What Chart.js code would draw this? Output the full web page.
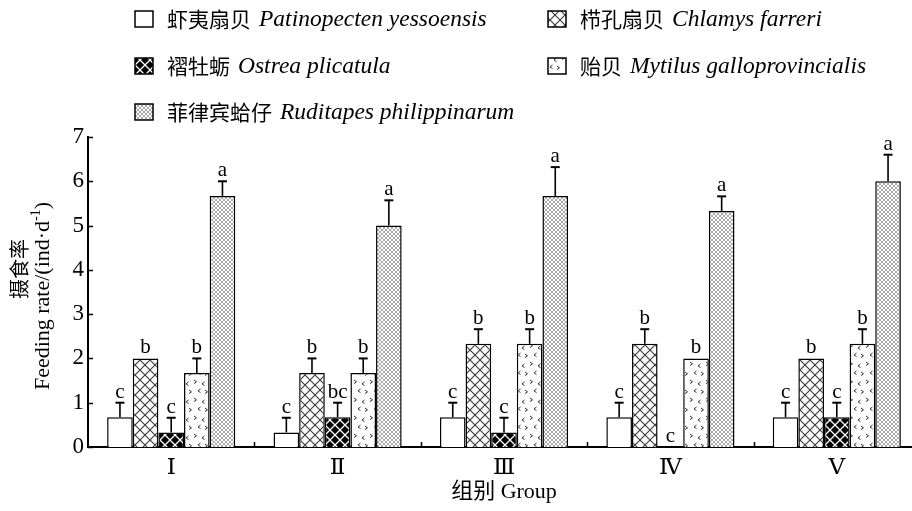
<!DOCTYPE html>
<html><head><meta charset="utf-8">
<script src="https://cdn.jsdelivr.net/npm/chart.js@4.4.0/dist/chart.umd.min.js"></script>
<style>
html,body{margin:0;padding:0;overflow:hidden;background:#fff;width:912px;height:511px}
#wrap{position:absolute;left:0;top:0;width:921px;height:511px}
</style></head>
<body><div id="wrap"><canvas id="c" width="921" height="511"></canvas></div>
<script>
const categories = ['Ⅰ','Ⅱ','Ⅲ','Ⅳ','Ⅴ'];
const speciesCn = ['虾夷扇贝','栉孔扇贝','褶牡蛎','贻贝','菲律宾蛤仔'];
const speciesLatin = ['Patinopecten yessoensis','Chlamys farreri','Ostrea plicatula','Mytilus galloprovincialis','Ruditapes philippinarum'];
const patinopecten = [0.67,0.33,0.67,0.67,0.67];
const chlamys      = [2.00,1.67,2.33,2.33,2.00];
const ostrea       = [0.33,0.67,0.33,0.00,0.67];
const mytilus      = [1.67,1.67,2.33,2.00,2.33];
const ruditapes    = [5.67,5.00,5.67,5.33,6.00];
const patinopectenErr = [0.33,0.33,0.33,0.33,0.33];
const chlamysErr      = [0.00,0.33,0.33,0.33,0.00];
const ostreaErr       = [0.33,0.33,0.33,0.00,0.33];
const mytilusErr      = [0.33,0.33,0.33,0.00,0.33];
const ruditapesErr    = [0.33,0.57,0.65,0.33,0.60];
const patinopectenSig = ['c','c','c','c','c'];
const chlamysSig      = ['b','b','b','b','b'];
const ostreaSig       = ['c','bc','c','c','c'];
const mytilusSig      = ['b','b','b','b','b'];
const ruditapesSig    = ['a','a','a','a','a'];
const yTicks = [0,1,2,3,4,5,6,7];
const xTitle = '组别 Group';
const yTitleCn = '摄食率';
const yTitleEn = 'Feeding rate/(ind·d';
const yTitleSup = '-1';

const SERIF = '"Liberation Serif","DejaVu Serif","Noto Sans CJK SC",serif';
const CJK = '"Noto Sans CJK SC",sans-serif';

const canvas = document.getElementById('c');
const ctx0 = canvas.getContext('2d');
function makeTile(w,h,draw){const c=document.createElement('canvas');c.width=w;c.height=h;const g=c.getContext('2d');draw(g,w,h);return ctx0.createPattern(c,'repeat');}
function lattice(bg,fg,p,lw){return makeTile(p,p,(g,w,h)=>{g.fillStyle=bg;g.fillRect(0,0,w,h);g.strokeStyle=fg;g.lineWidth=lw;g.beginPath();g.moveTo(0,0);g.lineTo(w,h);g.moveTo(w,0);g.lineTo(0,h);g.stroke();});}
const patWhite = '#ffffff';
const patChlamys = lattice('#ffffff','#3a3a3a',10,1.1);
const patOstrea = lattice('#000000','#ffffff',10,1.3);
const patMytilus = makeTile(16,18,(g,w,h)=>{
  g.fillStyle='#fff';g.fillRect(0,0,w,h);g.strokeStyle='#333';g.lineWidth=1;
  const gt=(x,y)=>{g.beginPath();g.moveTo(x,y);g.lineTo(x+2.5,y+1.8);g.lineTo(x,y+3.6);g.stroke();};
  const lt=(x,y)=>{g.beginPath();g.moveTo(x+2.5,y);g.lineTo(x,y+1.8);g.lineTo(x+2.5,y+3.6);g.stroke();};
  gt(2,2); lt(10,4); lt(6,11); gt(13,12);
});
const patRuditapes = lattice('#ffffff','#a0a0a0',4,0.9);
const fills = [patWhite,patChlamys,patOstrea,patMytilus,patRuditapes];

const values = [patinopecten,chlamys,ostrea,mytilus,ruditapes];
const errs = [patinopectenErr,chlamysErr,ostreaErr,mytilusErr,ruditapesErr];
const sigs = [patinopectenSig,chlamysSig,ostreaSig,mytilusSig,ruditapesSig];

const datasets = values.map((v,i)=>({
  label: speciesCn[i]+' '+speciesLatin[i],
  data: v, err: errs[i], sig: sigs[i],
  backgroundColor: fills[i], borderColor:'#000', borderWidth:1.5,
  barPercentage:1.0, categoryPercentage:0.77
}));

const legendPos = [[135,19],[548,19],[135,66],[548,66],[135,112]];

const decor = {
  id:'decor',
  afterDraw(chart){
    const {ctx, chartArea:a, scales:{x,y}} = chart;
    ctx.save();
    ctx.strokeStyle='#000'; ctx.lineWidth=1.5; ctx.lineCap='butt';
    yTicks.forEach(v=>{const py=Math.round(y.getPixelForValue(v))+0.5;ctx.beginPath();ctx.moveTo(a.left,py);ctx.lineTo(a.left+5,py);ctx.stroke();});
    for(let i=1;i<categories.length;i++){const px=Math.round((x.getPixelForValue(i-1)+x.getPixelForValue(i))/2)+0.5;ctx.beginPath();ctx.moveTo(px,a.bottom);ctx.lineTo(px,a.bottom-5);ctx.stroke();}
    // error bars + letters
    ctx.font='21px '+SERIF; ctx.fillStyle='#000'; ctx.textAlign='center'; ctx.textBaseline='alphabetic';
    chart.data.datasets.forEach((ds,di)=>{
      const meta=chart.getDatasetMeta(di);
      meta.data.forEach((bar,j)=>{
        const v=ds.data[j], e=ds.err[j];
        const top=y.getPixelForValue(v+e);
        if(e>0){
          ctx.lineWidth=1.6;
          ctx.beginPath();ctx.moveTo(bar.x,y.getPixelForValue(v));ctx.lineTo(bar.x,top);ctx.stroke();
          ctx.lineWidth=2;
          ctx.beginPath();ctx.moveTo(bar.x-4.5,top);ctx.lineTo(bar.x+4.5,top);ctx.stroke();
        }
        ctx.fillText(ds.sig[j],bar.x,top-5);
      });
    });
    // legend
    chart.data.datasets.forEach((ds,i)=>{
      const [bx,cy]=legendPos[i];
      ctx.fillStyle=ds.backgroundColor; ctx.fillRect(bx,cy-8,18,16);
      ctx.lineWidth=1.5; ctx.strokeStyle='#000'; ctx.strokeRect(bx,cy-8,18,16);
      ctx.fillStyle='#000'; ctx.textAlign='left'; ctx.textBaseline='middle';
      ctx.font='21px '+CJK;
      const tx=bx+32;
      ctx.fillText(speciesCn[i],tx,cy);
      const w=ctx.measureText(speciesCn[i]).width;
      ctx.font='italic 23.5px '+SERIF;
      ctx.fillText(speciesLatin[i],tx+w+8,cy+1);
    });
    // y title
    ctx.save();
    ctx.translate(19,269); ctx.rotate(-Math.PI/2);
    ctx.textAlign='center'; ctx.textBaseline='middle'; ctx.font='20px '+CJK;
    ctx.fillText(yTitleCn,0,0);
    ctx.restore();
    ctx.save();
    ctx.translate(49,296); ctx.rotate(-Math.PI/2);
    ctx.textBaseline='alphabetic'; ctx.font='22px '+SERIF;
    const w1=ctx.measureText(yTitleEn).width;
    ctx.font='14px '+SERIF; const w2=ctx.measureText(yTitleSup).width;
    ctx.font='22px '+SERIF; const w3=ctx.measureText(')').width;
    let sx=-(w1+w2+w3)/2;
    ctx.textAlign='left';
    ctx.fillText(yTitleEn,sx,0);
    ctx.font='14px '+SERIF; ctx.fillText(yTitleSup,sx+w1,-9);
    ctx.font='22px '+SERIF; ctx.fillText(')',sx+w1+w2,0);
    ctx.restore();
    ctx.restore();
  }
};

new Chart(canvas,{
  type:'bar',
  data:{labels:categories,datasets},
  options:{
    responsive:false, animation:false,
    layout:{padding:{top:137,left:0,right:1,bottom:0}},
    plugins:{legend:{display:false},tooltip:{enabled:false}},
    scales:{
      x:{
        grid:{display:false,drawTicks:false},
        border:{display:true,color:'#000',width:2},
        ticks:{color:'#000',font:{family:SERIF,size:23},padding:7},
        title:{display:true,text:xTitle,color:'#000',font:{family:SERIF,size:22},padding:{top:0,bottom:6}},
        afterFit(s){s.height=64;}
      },
      y:{
        min:0,max:7,
        grid:{display:false,drawTicks:false},
        border:{display:true,color:'#000',width:2},
        ticks:{stepSize:1,color:'#000',font:{family:SERIF,size:23},padding:4,
          callback:(v)=>yTicks.includes(v)?String(v):''},
        afterFit(s){s.width=88;}
      }
    }
  },
  plugins:[decor]
});
</script></body></html>
